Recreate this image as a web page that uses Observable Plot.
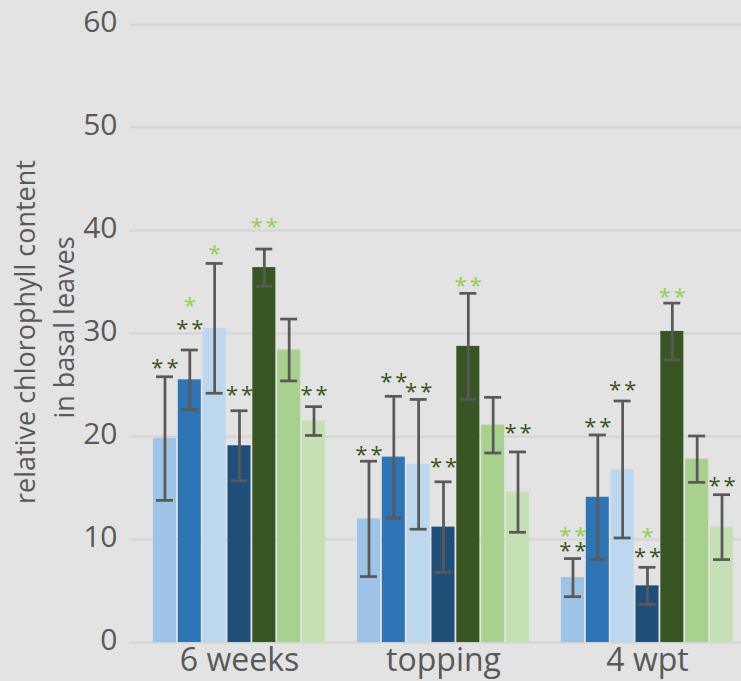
<!DOCTYPE html>
<html>
<head>
<meta charset="utf-8">
<script src="https://cdn.jsdelivr.net/npm/d3@7"></script>
<script src="https://cdn.jsdelivr.net/npm/@observablehq/plot@0.6"></script>
<style>
  html, body { margin: 0; padding: 0; background: #e2e3e2; overflow: hidden; }
  #chart svg { display: block; }
</style>
</head>
<body>
<div id="chart"></div>
<script>
// ---- data ----
const groups = ["6 weeks", "topping", "4 wpt"];
const series = ["S1", "S2", "S3", "S4", "S5", "S6", "S7"];
const yTicks = [0, 10, 20, 30, 40, 50, 60];

const mean6weeks  = [19.8, 25.5, 30.5, 19.1, 36.4, 28.4, 21.5];
const sd6weeks    = [6.0, 2.9, 6.3, 3.4, 1.8, 3.0, 1.4];
const meanTopping = [12.0, 18.0, 17.3, 11.2, 28.75, 21.1, 14.6];
const sdTopping   = [5.6, 5.9, 6.3, 4.4, 5.15, 2.7, 3.9];
const mean4wpt    = [6.3, 14.1, 16.8, 5.5, 30.2, 17.8, 11.2];
const sd4wpt      = [1.85, 6.05, 6.65, 1.8, 2.75, 2.25, 3.15];

// significance marks: [group, series index, text, kind, y value]
const significance = [
  ["6 weeks", 0, "**", "dark", 27.1],
  ["6 weeks", 1, "**", "dark", 30.9],
  ["6 weeks", 1, "*", "light", 33.2],
  ["6 weeks", 2, "*", "light", 38.2],
  ["6 weeks", 3, "**", "dark", 24.5],
  ["6 weeks", 4, "**", "light", 40.8],
  ["6 weeks", 6, "**", "dark", 24.5],
  ["topping", 0, "**", "dark", 18.7],
  ["topping", 1, "**", "dark", 25.8],
  ["topping", 2, "**", "dark", 24.8],
  ["topping", 3, "**", "dark", 17.5],
  ["topping", 4, "**", "light", 35.1],
  ["topping", 6, "**", "dark", 20.8],
  ["4 wpt", 0, "**", "dark", 9.35],
  ["4 wpt", 0, "**", "light", 10.8],
  ["4 wpt", 1, "**", "dark", 21.4],
  ["4 wpt", 2, "**", "dark", 25.0],
  ["4 wpt", 3, "**", "dark", 8.8],
  ["4 wpt", 3, "*", "light", 10.7],
  ["4 wpt", 4, "**", "light", 34.0],
  ["4 wpt", 6, "**", "dark", 15.7]
];

const barColors = ["#9dc3e6", "#2e75b6", "#bdd7ee", "#1f4e79", "#385623", "#a9d18e", "#c5e0b4"];
const starColors = {dark: "#385623", light: "#92d050"};
const textColor = "#595959";

// ---- build table ----
const meansBy = [mean6weeks, meanTopping, mean4wpt];
const sdsBy = [sd6weeks, sdTopping, sd4wpt];
const rows = [];
groups.forEach((g, gi) => series.forEach((s, si) => rows.push({
  group: g, series: s, mean: meansBy[gi][si], sd: sdsBy[gi][si]
})));
const stars = significance.map(([g, i, t, k, y]) => ({group: g, series: series[i], text: t, kind: k, y}));
const titleAnchor = [{group: groups[0]}];

const chart = Plot.plot({
  width: 741,
  height: 681,
  marginLeft: 129,
  marginRight: 0,
  marginTop: 24,
  marginBottom: 39,
  style: {background: "#e2e3e2", fontFamily: "'Open Sans', sans-serif", color: textColor, overflow: "visible"},
  fx: {domain: groups, padding: 0, label: null},
  x: {domain: series, paddingInner: 0.0738, paddingOuter: 0.6433, align: 0.75, round: false, axis: null},
  y: {domain: [0, 60], label: null},
  color: {domain: series, range: barColors},
  marks: [
    Plot.gridY(yTicks, {stroke: "#d3d4d3", strokeOpacity: 1, strokeWidth: 2}),
    Plot.barY(rows, {fx: "group", x: "series", y: "mean", fill: "series"}),
    Plot.ruleX(rows, {fx: "group", x: "series", y1: d => d.mean - d.sd, y2: d => d.mean + d.sd,
      stroke: textColor, strokeWidth: 2.75}),
    Plot.tickY(rows, {fx: "group", x: "series", y: d => d.mean + d.sd, inset: 3,
      stroke: textColor, strokeWidth: 2.75}),
    Plot.tickY(rows, {fx: "group", x: "series", y: d => d.mean - d.sd, inset: 3,
      stroke: textColor, strokeWidth: 2.75}),
    Plot.text(stars, {fx: "group", x: "series", y: "y", text: "text",
      fill: d => starColors[d.kind], fontSize: 22, dy: 5, dx: 1.5, lineAnchor: "middle"}),
    Plot.axisY({ticks: yTicks, tickSize: 0, tickPadding: 12, fontSize: 30, dy: -2, label: null, fill: textColor}),
    Plot.axisFx({anchor: "bottom", tickSize: 0, tickPadding: 6, fontSize: 32, dx: 8, label: null, fill: textColor}),
    Plot.text(titleAnchor, {fx: "group", frameAnchor: "left", rotate: -90, textAnchor: "middle",
      text: () => "relative chlorophyll content", fontSize: 27, dx: -103.5, dy: -1.5,
      lineAnchor: "middle", fill: textColor}),
    Plot.text(titleAnchor, {fx: "group", frameAnchor: "left", rotate: -90, textAnchor: "middle",
      text: () => "in basal leaves", fontSize: 27, dx: -64.5, dy: -6,
      lineAnchor: "middle", fill: textColor})
  ]
});

d3.select(chart).selectAll("text")
  .filter(function() { return /^\*+$/.test(this.textContent); })
  .style("letter-spacing", "3px");

document.getElementById("chart").appendChild(chart);
</script>
</body>
</html>
